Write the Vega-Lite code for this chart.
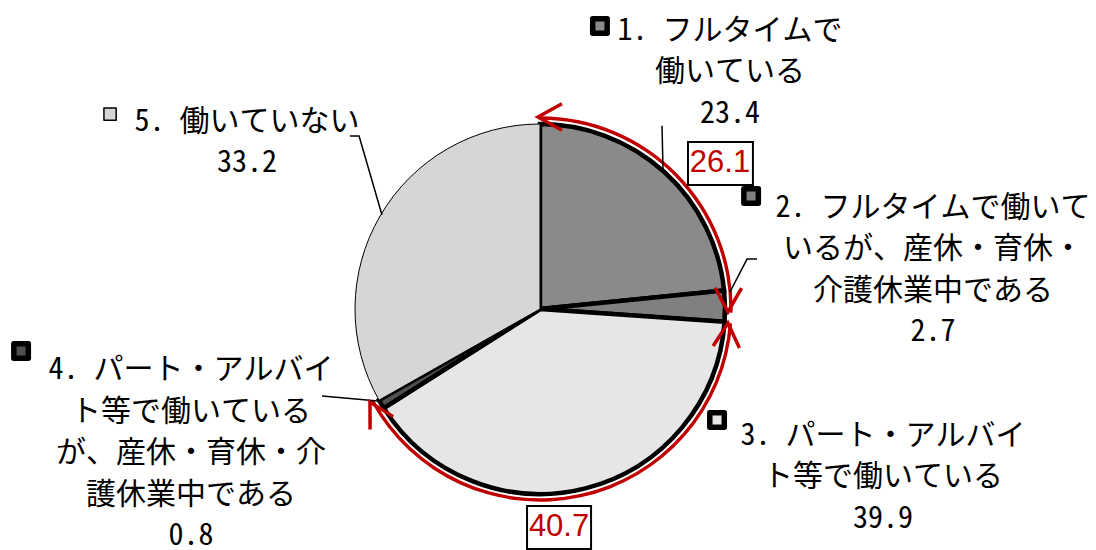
{
  "$schema": "https://vega.github.io/schema/vega-lite/v6.json",
  "width": 1080,
  "height": 618,
  "autosize": {"type": "none"},
  "padding": {"left": 0, "top": 0, "right": 16, "bottom": 0},
  "background": "white",
  "config": {"view": {"stroke": null}},
  "datasets": {
    "slices": [
      {"k": 1, "v": 23.4},
      {"k": 2, "v": 2.7},
      {"k": 3, "v": 39.9},
      {"k": 4, "v": 0.8},
      {"k": 5, "v": 33.2}
    ],
    "arcs": [
      {"a": 0, "b": 25.3},
      {"a": 26.2, "b": 67.0}
    ],
    "boxes": [
      {"x1": 0.8, "x2": 1.151, "y1": 0.903, "y2": 0.670, "t": "26.1", "tx": 0.973, "ty": 0.789},
      {"x1": -0.070, "x2": 0.276, "y1": -1.065, "y2": -1.297, "t": "40.7", "tx": 0.103, "ty": -1.181}
    ],
    "labels": [
      {"x": 1.027, "y": 1.503, "t": "1. フルタイムで\n働いている\n23.4"},
      {"x": 2.124, "y": 0.546, "t": "2. フルタイムで働いて\nいるが、産休・育休・\n介護休業中である\n2.7"},
      {"x": 1.854, "y": -0.686, "t": "3. パート・アルバイ\nト等で働いている\n39.9"},
      {"x": -1.886, "y": -0.33, "t": "4. パート・アルバイ\nト等で働いている\nが、産休・育休・介\n護休業中である\n0.8"},
      {"x": -1.584, "y": 1.011, "t": "5. 働いていない\n33.2"}
    ],
    "leaders": [
      {"g": 1, "s": 1, "x": 0.6595, "y": 0.990},
      {"g": 1, "s": 2, "x": 0.6649, "y": 0.757},
      {"g": 2, "s": 1, "x": 1.173, "y": 0.270},
      {"g": 2, "s": 2, "x": 1.119, "y": 0.270},
      {"g": 2, "s": 3, "x": 1.027, "y": 0.092},
      {"g": 4, "s": 1, "x": -1.178, "y": -0.470},
      {"g": 4, "s": 2, "x": -0.876, "y": -0.497},
      {"g": 5, "s": 1, "x": -1.027, "y": 0.935},
      {"g": 5, "s": 2, "x": -0.978, "y": 0.935},
      {"g": 5, "s": 3, "x": -0.854, "y": 0.508}
    ],
    "icons": [
      {"k": 1, "x": 0.324, "y": 1.530},
      {"k": 2, "x": 1.141, "y": 0.611},
      {"k": 3, "x": 0.957, "y": -0.600},
      {"k": 4, "x": -2.805, "y": -0.227},
      {"k": 5, "x": -2.324, "y": 1.054}
    ],
    "arrows": [
      {"x": -0.011, "y": 1.038, "dir": 270},
      {"x": 1.016, "y": -0.016, "dir": 181},
      {"x": 1.016, "y": -0.076, "dir": 4},
      {"x": -0.919, "y": -0.503, "dir": 331}
    ]
  },
  "layer": [
    {
      "data": {"name": "slices"},
      "mark": {"type": "arc", "outerRadius": 185, "stroke": "black"},
      "encoding": {
        "theta": {"field": "v", "type": "quantitative", "stack": true, "scale": {"domain": [0, 100]}},
        "order": {"field": "k", "type": "quantitative", "sort": "ascending"},
        "color": {"field": "k", "type": "nominal", "scale": {"domain": [1, 2, 3, 4, 5], "range": ["#8a8a8a", "#808080", "#e6e6e6", "#505050", "#d6d6d6"]}, "legend": null},
        "strokeWidth": {"condition": {"test": "datum.k == 5", "value": 1}, "value": 4.5}
      }
    },
    {
      "data": {"name": "arcs"},
      "mark": {"type": "arc", "innerRadius": 189.3, "outerRadius": 192.7, "fill": "#C00000"},
      "encoding": {
        "theta": {"field": "a", "type": "quantitative", "stack": null, "scale": {"domain": [0, 100]}},
        "theta2": {"field": "b"}
      }
    },
    {
      "data": {"name": "leaders"},
      "mark": {"type": "line", "stroke": "black", "strokeWidth": 1.5},
      "encoding": {
        "x": {"field": "x", "type": "quantitative", "scale": {"domain": [-2.9189, 2.9189], "nice": false, "zero": false}, "axis": null},
        "y": {"field": "y", "type": "quantitative", "scale": {"domain": [-1.6703, 1.6703], "nice": false, "zero": false}, "axis": null},
        "detail": {"field": "g", "type": "nominal"},
        "order": {"field": "s", "type": "quantitative"}
      }
    },
    {
      "data": {"name": "arrows"},
      "mark": {"type": "point", "shape": "M-0.55,1L0,0L0.55,1", "size": 2300, "filled": false, "color": "#C00000", "strokeWidth": 3.5, "opacity": 1},
      "encoding": {
        "x": {"field": "x", "type": "quantitative", "scale": {"domain": [-2.9189, 2.9189], "nice": false, "zero": false}, "axis": null},
        "y": {"field": "y", "type": "quantitative", "scale": {"domain": [-1.6703, 1.6703], "nice": false, "zero": false}, "axis": null},
        "angle": {"field": "dir", "type": "quantitative", "scale": null}
      }
    },
    {
      "data": {"name": "boxes"},
      "mark": {"type": "rect", "fill": "white", "stroke": "black", "strokeWidth": 2},
      "encoding": {
        "x": {"field": "x1", "type": "quantitative", "scale": {"domain": [-2.9189, 2.9189], "nice": false, "zero": false}, "axis": null},
        "x2": {"field": "x2"},
        "y": {"field": "y1", "type": "quantitative", "scale": {"domain": [-1.6703, 1.6703], "nice": false, "zero": false}, "axis": null},
        "y2": {"field": "y2"}
      }
    },
    {
      "data": {"name": "boxes"},
      "mark": {"type": "text", "font": "Liberation Sans", "fontSize": 31, "fill": "#C00000", "align": "center", "baseline": "middle"},
      "encoding": {
        "x": {"field": "tx", "type": "quantitative", "scale": {"domain": [-2.9189, 2.9189], "nice": false, "zero": false}, "axis": null},
        "y": {"field": "ty", "type": "quantitative", "scale": {"domain": [-1.6703, 1.6703], "nice": false, "zero": false}, "axis": null},
        "text": {"field": "t", "type": "nominal"}
      }
    },
    {
      "data": {"name": "labels"},
      "mark": {"type": "text", "font": "Noto Sans Mono CJK JP, Noto Sans CJK JP", "fontSize": 30, "lineHeight": 41.5, "lineBreak": "\n", "fill": "black", "align": "center", "baseline": "middle"},
      "encoding": {
        "x": {"field": "x", "type": "quantitative", "scale": {"domain": [-2.9189, 2.9189], "nice": false, "zero": false}, "axis": null},
        "y": {"field": "y", "type": "quantitative", "scale": {"domain": [-1.6703, 1.6703], "nice": false, "zero": false}, "axis": null},
        "text": {"field": "t", "type": "nominal"}
      }
    },
    {
      "data": {"name": "icons"},
      "mark": {"type": "point", "shape": "square", "filled": true, "stroke": "black", "opacity": 1, "strokeJoin": "round"},
      "encoding": {
        "x": {"field": "x", "type": "quantitative", "scale": {"domain": [-2.9189, 2.9189], "nice": false, "zero": false}, "axis": null},
        "y": {"field": "y", "type": "quantitative", "scale": {"domain": [-1.6703, 1.6703], "nice": false, "zero": false}, "axis": null},
        "color": {"field": "k", "type": "nominal", "scale": {"domain": [1, 2, 3, 4, 5], "range": ["#8a8a8a", "#808080", "#e6e6e6", "#505050", "#d6d6d6"]}, "legend": null},
        "strokeWidth": {"condition": {"test": "datum.k == 5", "value": 1.5}, "value": 5.5},
        "size": {"condition": {"test": "datum.k == 5", "value": 150}, "value": 210}
      }
    }
  ]
}
